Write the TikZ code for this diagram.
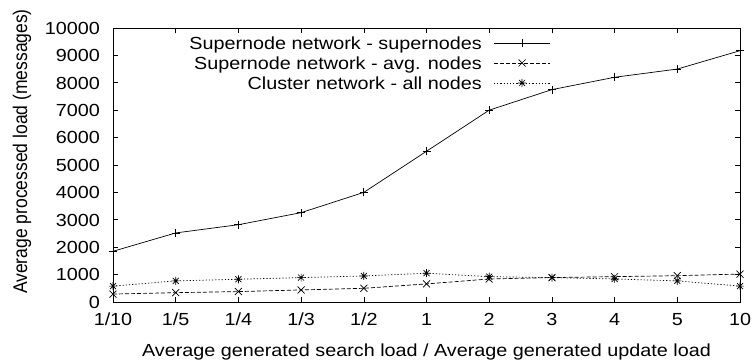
\documentclass[tikz,border=0pt]{standalone}
\usepackage{fontspec}
\setmainfont{Liberation Sans}
\usepackage{graphicx}
\newcommand{\wtext}[1]{\scalebox{1.13}[1]{#1}}

\begin{document}
\begin{tikzpicture}[x=1pt, y=1pt,
  lbl/.style={font=\fontsize{17.5}{20}\selectfont, inner sep=0pt},
  supline/.style={line width=0.7pt},
  avgline/.style={line width=0.7pt, dash pattern=on 4pt off 2pt},
  cluline/.style={line width=0.7pt, dash pattern=on 1.2pt off 2pt},
  mk/.style={line width=0.7pt, solid}]
  \useasboundingbox (0,0) rectangle (753,364);

  % Coordinates
  \coordinate (SW) at (113,62);
  \coordinate (NE) at (740,336);
  \begin{scope}[shift={(113,62)}, x=62.7pt, y=0.0274pt]
    \foreach \v [count=\i from 0] in {1850,2520,2820,3260,4000,5500,7000,7750,8200,8500,9170}
      \coordinate (s\i) at (\i,\v);
    \foreach \v [count=\i from 0] in {290,340,380,440,500,660,840,890,925,960,1020}
      \coordinate (a\i) at (\i,\v);
    \foreach \v [count=\i from 0] in {580,770,830,890,950,1050,925,890,840,770,580}
      \coordinate (c\i) at (\i,\v);
  \end{scope}

  % Frame and ticks
  \draw[line width=0.8pt] (SW) rectangle (NE);
  \foreach \v in {0,...,10}{
    \draw[line width=0.6pt] (113,62+27.4*\v) -- ++(5,0);
    \draw[line width=0.6pt] (740,62+27.4*\v) -- ++(-5,0);
    \node[lbl, anchor=base east] (ylab\v) at (100,55.7+27.4*\v) {\wtext{\the\numexpr\v*1000\relax}};
  }
  \foreach \t [count=\i from 0] in {1/10,1/5,1/4,1/3,1/2,1,2,3,4,5,10}{
    \draw[line width=0.6pt] (113+62.7*\i,62) -- ++(0,5);
    \draw[line width=0.6pt] (113+62.7*\i,336) -- ++(0,-5);
    \node[lbl, anchor=base] (xlab\i) at (113+62.7*\i,38) {\wtext{\t}};
  }

  % Axis labels
  \node[lbl, anchor=base] (xtitle) at (426.5,7) {\wtext{Average generated search load / Average generated update load}};
  \node[lbl, rotate=90] (ytitle) at (22,212.5) {\scalebox{1}[1.13]{Average processed load (messages)}};

  % Curves
  \draw[supline] (s0) \foreach \i in {1,...,10}{ -- (s\i)};
  \draw[avgline] (a0) \foreach \i in {1,...,10}{ -- (a\i)};
  \draw[cluline] (c0) \foreach \i in {1,...,10}{ -- (c\i)};
  \foreach \i in {0,...,10}{
    \draw[mk] (s\i) +(-4,0) -- +(4,0) +(0,-4) -- +(0,4);
    \draw[mk] (a\i) +(-3.5,-3.5) -- +(3.5,3.5) +(-3.5,3.5) -- +(3.5,-3.5);
    \draw[mk] (c\i) +(-4,0) -- +(4,0) +(0,-4) -- +(0,4)
      +(-3,-3) -- +(3,3) +(-3,3) -- +(3,-3);
  }

  % Legend
  \node[lbl, anchor=base east] (ksup) at (482,314) {\wtext{Supernode network - supernodes}};
  \node[lbl, anchor=base east] (kavg) at (482,294) {\wtext{Supernode network - avg. nodes}};
  \node[lbl, anchor=base east] (kclu) at (482,274) {\wtext{Cluster network - all nodes}};
  \coordinate (ksupA) at (494,321); \coordinate (ksupB) at (550,321); \coordinate (ksupM) at (522,321);
  \coordinate (kavgA) at (494,301); \coordinate (kavgB) at (550,301); \coordinate (kavgM) at (522,301);
  \coordinate (kcluA) at (494,281); \coordinate (kcluB) at (550,281); \coordinate (kcluM) at (522,281);
  \draw[supline] (ksupA) -- (ksupB);
  \draw[avgline] (kavgA) -- (kavgB);
  \draw[cluline] (kcluA) -- (kcluB);
  \draw[mk] (ksupM) +(-4,0) -- +(4,0) +(0,-4) -- +(0,4);
  \draw[mk] (kavgM) +(-3.5,-3.5) -- +(3.5,3.5) +(-3.5,3.5) -- +(3.5,-3.5);
  \draw[mk] (kcluM) +(-4,0) -- +(4,0) +(0,-4) -- +(0,4)
    +(-3,-3) -- +(3,3) +(-3,3) -- +(3,-3);
\end{tikzpicture}
\end{document}
